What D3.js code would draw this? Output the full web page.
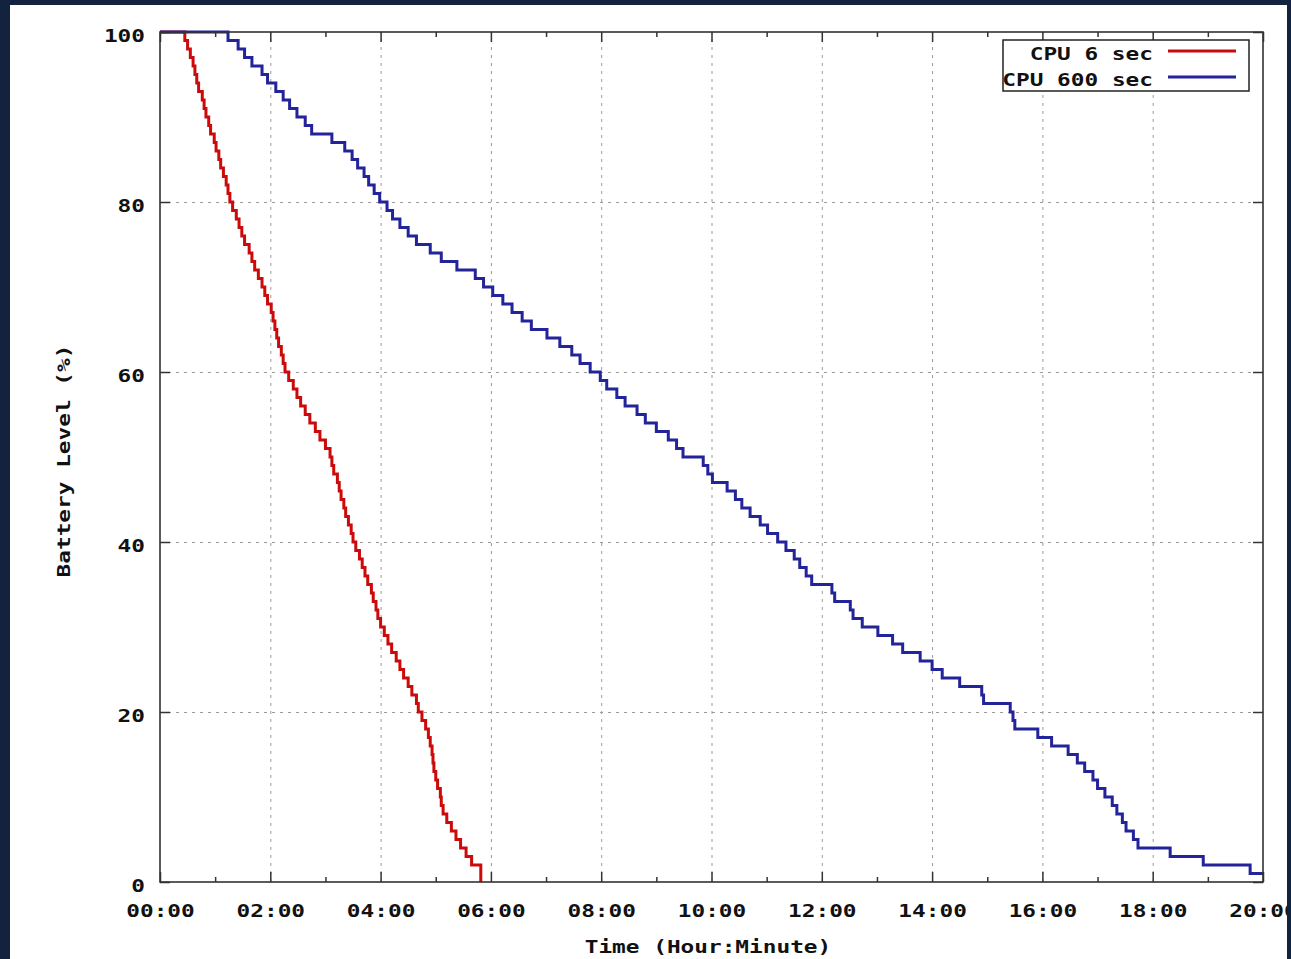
<!DOCTYPE html>
<html>
<head>
<meta charset="utf-8">
<script src="https://cdn.jsdelivr.net/npm/d3@7"></script>
<style>
    body { margin: 0; background: #13223f; }
    svg { position: absolute; left: 10px; top: 5px; background: #ffffff; }
    text { font-family: "DejaVu Sans Mono", monospace; font-weight: bold; fill: #111; }
</style>
</head>
<body>
<script>
// Data: minutes since start, battery level (%) at each step
const redMinutes = [0, 27, 30, 33, 36, 38, 40, 42, 46, 48, 50,
    53, 55, 59, 61, 64, 66, 69, 72, 74, 76,
    79, 83, 86, 89, 92, 97, 100, 103, 107, 111,
    114, 117, 121, 123, 125, 127, 129, 132, 134, 136,
    140, 145, 149, 153, 158, 163, 169, 174, 180, 185,
    187, 189, 193, 195, 197, 200, 202, 205, 208, 210,
    213, 217, 220, 223, 226, 230, 232, 235, 237, 240,
    244, 248, 252, 257, 261, 265, 270, 274, 279, 281,
    285, 289, 292, 294, 296, 297, 298, 300, 302, 305,
    306, 308, 312, 317, 322, 327, 333, 339, 349]
const redLevels = [100, 99, 98, 97, 96, 95, 94, 93, 92, 91, 90,
    89, 88, 87, 86, 85, 84, 83, 82, 81, 80,
    79, 78, 77, 76, 75, 74, 73, 72, 71, 70,
    69, 68, 67, 66, 65, 64, 63, 62, 61, 60,
    59, 58, 57, 56, 55, 54, 53, 52, 51, 50,
    49, 48, 47, 46, 45, 44, 43, 42, 41, 40,
    39, 38, 37, 36, 35, 34, 33, 32, 31, 30,
    29, 28, 27, 26, 25, 24, 23, 22, 21, 20,
    19, 18, 17, 16, 15, 14, 13, 12, 11, 10,
    9, 8, 7, 6, 5, 4, 3, 2, 0]

const blueMinutes = [0, 74, 85, 92, 100, 111, 117, 126, 134, 141, 149,
    158, 165, 187, 201, 209, 215, 222, 227, 233, 239,
    247, 253, 261, 270, 279, 294, 306, 323, 343, 352,
    362, 373, 383, 394, 404, 421, 435, 448, 457, 468,
    479, 486, 497, 506, 519, 528, 540, 553, 562, 569,
    591, 596, 601, 617, 626, 633, 642, 653, 661, 672,
    681, 690, 696, 703, 709, 731, 734, 751, 754, 764,
    781, 797, 808, 827, 840, 851, 870, 894, 896, 925,
    928, 930, 955, 970, 988, 998, 1006, 1015, 1020, 1028,
    1036, 1041, 1047, 1051, 1059, 1064, 1099, 1135, 1186, 1200]
const blueLevels = [100, 99, 98, 97, 96, 95, 94, 93, 92, 91, 90,
    89, 88, 87, 86, 85, 84, 83, 82, 81, 80,
    79, 78, 77, 76, 75, 74, 73, 72, 71, 70,
    69, 68, 67, 66, 65, 64, 63, 62, 61, 60,
    59, 58, 57, 56, 55, 54, 53, 52, 51, 50,
    49, 48, 47, 46, 45, 44, 43, 42, 41, 40,
    39, 38, 37, 36, 35, 34, 33, 32, 31, 30,
    29, 28, 27, 26, 25, 24, 23, 22, 21, 20,
    19, 18, 17, 16, 15, 14, 13, 12, 11, 10,
    9, 8, 7, 6, 5, 4, 3, 2, 1, 1]

const seriesNames = ["CPU 6 sec", "CPU 600 sec"]
const seriesColors = ["#cc0a0a", "#23239a"]
const xTicks = [0, 120, 240, 360, 480, 600, 720, 840, 960, 1080, 1200]
const xMinorTicks = [60, 180, 300, 420, 540, 660, 780, 900, 1020, 1140]
const yTicks = [0, 20, 40, 60, 80, 100]

const W = 1277, H = 954
const margin = { left: 150, top: 27 }
const width = 1103
const height = 850
const charW = 13.7

// gnuplot's wide bitmap-ish font: stretch every label to a fixed char width
function stretch(sel) {
    sel.attr("textLength", function() { return this.textContent.length * charW })
       .attr("lengthAdjust", "spacingAndGlyphs")
}

const svg = d3.select("body").append("svg")
    .attr("width", W)
    .attr("height", H)

const chart = svg.append("g")
    .attr("transform", `translate(${margin.left}, ${margin.top})`)

const xScale = d3.scaleLinear().domain([0, 1200]).range([0, width])
const yScale = d3.scaleLinear().domain([0, 100]).range([height, 0])

const fmt = m => d3.format("02d")(m / 60) + ":00"

// Grid (dashed), skip the frame edges
chart.append("g")
    .attr("transform", `translate(0, ${height})`)
    .call(d3.axisBottom(xScale).tickValues(xTicks.slice(1, -1)).tickSize(-height).tickFormat(""))
    .call(g => g.select(".domain").remove())
    .selectAll("line").attr("stroke", "#9a9a9a").attr("stroke-dasharray", "3,5")
chart.append("g")
    .call(d3.axisLeft(yScale).tickValues(yTicks.slice(1, -1)).tickSize(-width).tickFormat(""))
    .call(g => g.select(".domain").remove())
    .selectAll("line").attr("stroke", "#9a9a9a").attr("stroke-dasharray", "3,5")

// Series lines
const line = d3.line()
    .x(d => xScale(d[0]))
    .y(d => yScale(d[1]))
    .curve(d3.curveStepAfter)

const series = [d3.zip(redMinutes, redLevels), d3.zip(blueMinutes, blueLevels)]
series.forEach((s, i) => {
    chart.append("path")
        .datum(s)
        .attr("fill", "none")
        .attr("stroke", seriesColors[i])
        .attr("stroke-width", 3)
        .attr("stroke-linejoin", "miter")
        .attr("d", line)
})

// Axes: ticks point inward, mirrored on top / right
const bottom = chart.append("g")
    .attr("transform", `translate(0, ${height})`)
    .call(d3.axisBottom(xScale).tickValues(xTicks).tickSize(-10).tickPadding(22).tickFormat(fmt))
bottom.selectAll("text").style("font-size", "18px").attr("fill", "#111").call(stretch)

chart.append("g")
    .attr("transform", `translate(0, ${height})`)
    .call(d3.axisBottom(xScale).tickValues(xMinorTicks).tickSize(-5).tickFormat(""))
chart.append("g")
    .call(d3.axisTop(xScale).tickValues(xTicks).tickSize(-10).tickFormat(""))
chart.append("g")
    .call(d3.axisTop(xScale).tickValues(xMinorTicks).tickSize(-5).tickFormat(""))

const left = chart.append("g")
    .call(d3.axisLeft(yScale).tickValues(yTicks).tickSize(-10).tickPadding(15))
left.selectAll("text").style("font-size", "18px").attr("dy", "0.5em").attr("fill", "#111").call(stretch)

chart.append("g")
    .attr("transform", `translate(${width}, 0)`)
    .call(d3.axisRight(yScale).tickValues(yTicks).tickSize(-10).tickFormat(""))

chart.selectAll(".domain").attr("stroke", "none")
chart.selectAll(".tick line").filter(function() { return !this.getAttribute("stroke-dasharray") })
    .attr("stroke", "#333").attr("stroke-width", 1.5)

// Frame
chart.append("rect")
    .attr("width", width)
    .attr("height", height)
    .attr("fill", "none")
    .attr("stroke", "#333")
    .attr("stroke-width", 1.6)

// Axis titles
svg.append("text")
    .attr("x", 698)
    .attr("y", 948)
    .attr("text-anchor", "middle")
    .style("font-size", "18px")
    .text("Time (Hour:Minute)")
    .call(stretch)

svg.append("text")
    .attr("transform", "translate(60, 456) rotate(-90)")
    .attr("text-anchor", "middle")
    .style("font-size", "18px")
    .text("Battery Level (%)")
    .call(stretch)

// Legend
const legend = svg.append("g")
legend.append("rect")
    .attr("x", 993)
    .attr("y", 35)
    .attr("width", 246)
    .attr("height", 51)
    .attr("fill", "#fff")
    .attr("stroke", "#222")
    .attr("stroke-width", 1.5)

seriesNames.forEach((name, i) => {
    const yy = 46 + i * 26
    legend.append("text")
        .attr("x", 1143)
        .attr("y", yy + 9)
        .attr("text-anchor", "end")
        .style("font-size", "18px")
        .text(name)
        .call(stretch)
    legend.append("line")
        .attr("x1", 1158)
        .attr("x2", 1226)
        .attr("y1", yy)
        .attr("y2", yy)
        .attr("stroke", seriesColors[i])
        .attr("stroke-width", 3)
})
</script>
</body>
</html>
